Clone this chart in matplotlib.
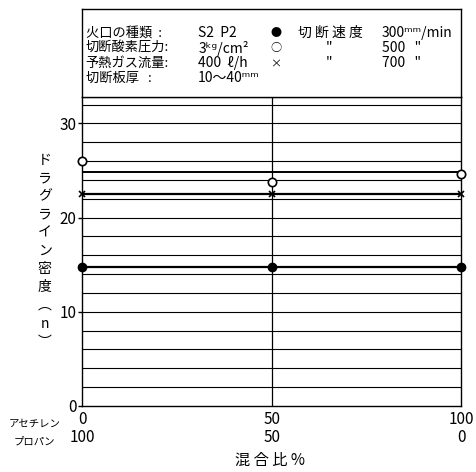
import numpy as np
import matplotlib
matplotlib.use("Agg")
import matplotlib.pyplot as plt

plt.rcParams['font.family'] = ['Noto Sans CJK JP', 'DejaVu Sans']

# 混合比 (アセチレン %)
acetylene = [0, 50, 100]
propane = [100, 50, 0]

# ドラグライン密度 (n)
speed_300 = [14.7, 14.7, 14.7]   # ●
speed_500 = [26.0, 23.8, 24.6]   # ○
speed_700 = [22.5, 22.5, 22.5]   # ×

fig = plt.figure(figsize=(4.77, 4.72), dpi=100)
ax = fig.add_axes([0.172, 0.14, 0.7955, 0.6545])
box = fig.add_axes([0.172, 0.7945, 0.7955, 0.187])

# 水平グリッド
for g in np.arange(2, 33, 2):
    ax.axhline(g, color='black', lw=0.8, zorder=1)
ax.axvline(50, color='black', lw=0.9, zorder=1)

# 各系列: 平均線 + マーカー
ax.axhline(np.mean(speed_300), color='black', lw=1.6, zorder=2)
ax.plot(acetylene, speed_300, 'o', color='black', ms=6, clip_on=False, zorder=3)

ax.axhline(np.mean(speed_500), color='black', lw=1.4, zorder=2)
ax.plot(acetylene, speed_500, 'o', mfc='white', mec='black', mew=1.2, ms=6,
        clip_on=False, zorder=3)

ax.axhline(np.mean(speed_700), color='black', lw=1.6, zorder=2)
ax.plot(acetylene, speed_700, 'x', color='black', mew=1.2, ms=5,
        clip_on=False, zorder=3)

ax.set_xlim(0, 100)
ax.set_ylim(0, 32.8)
ax.set_yticks([0, 10, 20, 30])
ax.set_xticks(acetylene)
ax.set_xticklabels([str(a) for a in acetylene])
ax.tick_params(axis='y', length=3, width=1, pad=1, labelsize=11)
ax.tick_params(axis='x', length=0, pad=4, labelsize=11)
for s in ax.spines.values():
    s.set_linewidth(1.0)
ax.spines['top'].set_linewidth(0.9)

# プロパン側の目盛り (2段目)
for a, p in zip(acetylene, propane):
    ax.annotate(str(p), xy=(a, 0), xycoords=('data', 'axes fraction'),
                xytext=(0, -32), textcoords='offset pixels',
                ha='center', va='center', fontsize=11)

# 縦書きのy軸ラベル
ylab = ['ド', 'ラ', 'グ', 'ラ', 'イ', 'ン', '密', '度', '︵', 'n', '︶']
fig.text(0.094, 0.468, "\n".join(ylab), ha='center', va='center',
         fontsize=10, linespacing=1.38)

fig.text(0.072, 0.103, "アセチレン", ha='center', va='center', fontsize=7.5)
fig.text(0.072, 0.064, "プロパン", ha='center', va='center', fontsize=7.5)
fig.text(0.566, 0.025, "混 合 比 %", ha='center', va='center', fontsize=11)

# 条件の枠
box.set_xticks([])
box.set_yticks([])
box.set_xlim(0, 1)
box.set_ylim(0, 1)
for s in box.spines.values():
    s.set_linewidth(1.0)

fs = 10
rows = [0.724, 0.553, 0.383, 0.213]
left = ["火口の種類  :", "切断酸素圧力:", "予熱ガス流量:", "切断板厚   :"]
mid = ["S2  P2", "3ᵏᵍ/cm²", "400  ℓ/h", "10～40ᵐᵐ"]
marks = ["●", "○", "×"]
for y, l, m in zip(rows, left, mid):
    box.text(0.01, y, l, va='center', fontsize=9.5)
    box.text(0.306, y, m, va='center', fontsize=fs)
for y, mk in zip(rows[:3], marks):
    box.text(0.51, y, mk, va='center', ha='center', fontsize=8)
box.text(0.57, rows[0], "切 断 速 度", va='center', fontsize=10)
box.text(0.79, rows[0], "300ᵐᵐ/min", va='center', fontsize=fs)
for y, v in zip(rows[1:3], ["500", "700"]):
    box.text(0.65, y, '"', va='center', ha='center', fontsize=fs)
    box.text(0.79, y, v + '   "', va='center', fontsize=fs)

fig.savefig("out.png", dpi=100)
